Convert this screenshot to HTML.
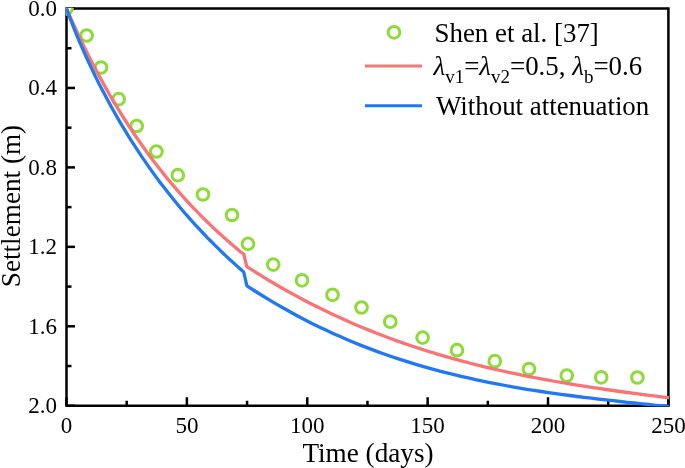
<!DOCTYPE html>
<html><head><meta charset="utf-8"><title>Settlement vs Time</title>
<style>html,body{margin:0;padding:0;background:#fff;}body{width:685px;height:468px;overflow:hidden;font-family:"Liberation Serif",serif;}svg{display:block;will-change:transform;}</style>
</head><body>
<svg width="685" height="468" viewBox="0 0 685 468">
<rect width="685" height="468" fill="#fff"/>
<defs><clipPath id="c"><rect x="65.75" y="7.75" width="603.4" height="398.75"/></clipPath></defs>
<g stroke="#000" stroke-width="2.5" fill="none" stroke-linecap="butt">
<rect x="66.5" y="8.5" width="601.9" height="397.25"/>
<line x1="66.5" y1="8.50" x2="75.0" y2="8.50"/>
<line x1="66.5" y1="48.23" x2="71.5" y2="48.23"/>
<line x1="66.5" y1="87.95" x2="75.0" y2="87.95"/>
<line x1="66.5" y1="127.68" x2="71.5" y2="127.68"/>
<line x1="66.5" y1="167.40" x2="75.0" y2="167.40"/>
<line x1="66.5" y1="207.12" x2="71.5" y2="207.12"/>
<line x1="66.5" y1="246.85" x2="75.0" y2="246.85"/>
<line x1="66.5" y1="286.58" x2="71.5" y2="286.58"/>
<line x1="66.5" y1="326.30" x2="75.0" y2="326.30"/>
<line x1="66.5" y1="366.03" x2="71.5" y2="366.03"/>
<line x1="66.5" y1="405.75" x2="75.0" y2="405.75"/>
<line x1="66.50" y1="405.75" x2="66.50" y2="397.25"/>
<line x1="126.69" y1="405.75" x2="126.69" y2="400.75"/>
<line x1="186.88" y1="405.75" x2="186.88" y2="397.25"/>
<line x1="247.07" y1="405.75" x2="247.07" y2="400.75"/>
<line x1="307.26" y1="405.75" x2="307.26" y2="397.25"/>
<line x1="367.45" y1="405.75" x2="367.45" y2="400.75"/>
<line x1="427.64" y1="405.75" x2="427.64" y2="397.25"/>
<line x1="487.83" y1="405.75" x2="487.83" y2="400.75"/>
<line x1="548.02" y1="405.75" x2="548.02" y2="397.25"/>
<line x1="608.21" y1="405.75" x2="608.21" y2="400.75"/>
<line x1="668.40" y1="405.75" x2="668.40" y2="397.25"/>
</g>
<g clip-path="url(#c)" fill="none">
<g stroke="#8CDC38" stroke-width="3.0" fill="#fff">
<circle cx="66.5" cy="8.5" r="5.85"/>
<circle cx="86.6" cy="35.5" r="5.85"/>
<circle cx="101.0" cy="67.5" r="5.85"/>
<circle cx="118.7" cy="99.1" r="5.85"/>
<circle cx="136.7" cy="126.0" r="5.85"/>
<circle cx="156.4" cy="151.5" r="5.85"/>
<circle cx="177.8" cy="175.2" r="5.85"/>
<circle cx="203.0" cy="194.5" r="5.85"/>
<circle cx="232.0" cy="215.0" r="5.85"/>
<circle cx="248.0" cy="243.9" r="5.85"/>
<circle cx="273.2" cy="264.6" r="5.85"/>
<circle cx="302.0" cy="280.3" r="5.85"/>
<circle cx="332.5" cy="294.8" r="5.85"/>
<circle cx="361.5" cy="307.5" r="5.85"/>
<circle cx="390.3" cy="321.7" r="5.85"/>
<circle cx="422.6" cy="337.6" r="5.85"/>
<circle cx="457.0" cy="350.2" r="5.85"/>
<circle cx="494.8" cy="361.2" r="5.85"/>
<circle cx="529.0" cy="369.0" r="5.85"/>
<circle cx="566.8" cy="375.6" r="5.85"/>
<circle cx="601.2" cy="377.3" r="5.85"/>
<circle cx="637.4" cy="377.5" r="5.85"/>
</g>
<path d="M66.5,8.5 L70.1,16.7 L73.7,24.8 L77.4,32.6 L81.0,40.2 L84.6,47.7 L88.2,55.0 L91.8,62.1 L95.4,69.0 L99.1,75.8 L102.7,82.4 L106.3,88.9 L109.9,95.2 L113.5,101.3 L117.2,107.4 L120.8,113.3 L124.4,119.0 L128.0,124.6 L131.6,130.2 L135.2,135.5 L138.9,140.8 L142.5,146.0 L146.1,151.0 L149.7,155.9 L153.3,160.8 L157.0,165.5 L160.6,170.1 L164.2,174.6 L167.8,179.1 L171.4,183.4 L175.1,187.7 L178.7,191.8 L182.3,195.9 L185.9,199.9 L189.5,203.8 L193.1,207.7 L196.8,211.4 L200.4,215.1 L204.0,218.8 L207.6,222.3 L211.2,225.8 L214.9,229.2 L218.5,232.6 L222.1,235.8 L225.7,239.1 L229.3,242.2 L232.9,245.3 L236.6,248.4 L240.2,251.4 L243.8,254.3 L246.8,266.6 L254.0,271.2 L261.2,275.7 L268.3,280.1 L275.5,284.3 L282.7,288.5 L289.9,292.5 L297.1,296.4 L304.2,300.3 L311.4,304.0 L318.6,307.6 L325.8,311.1 L333.0,314.5 L340.1,317.8 L347.3,321.0 L354.5,324.2 L361.7,327.2 L368.9,330.1 L376.0,333.0 L383.2,335.8 L390.4,338.5 L397.6,341.1 L404.8,343.6 L411.9,346.0 L419.1,348.4 L426.3,350.7 L433.5,352.9 L440.7,355.1 L447.8,357.2 L455.0,359.2 L462.2,361.1 L469.4,363.0 L476.5,364.9 L483.7,366.6 L490.9,368.3 L498.1,370.0 L505.3,371.6 L512.4,373.2 L519.6,374.7 L526.8,376.1 L534.0,377.5 L541.2,378.9 L548.3,380.2 L555.5,381.5 L562.7,382.7 L569.9,383.9 L577.1,385.1 L584.2,386.2 L591.4,387.3 L598.6,388.4 L605.8,389.5 L613.0,390.5 L620.1,391.5 L627.3,392.5 L634.5,393.4 L641.7,394.4 L648.9,395.3 L656.0,396.2 L663.2,397.1 L670.4,398.0" stroke="#F97474" stroke-width="3.3" stroke-linejoin="round"/>
<path d="M66.5,8.5 L70.1,18.4 L73.7,27.7 L77.3,36.6 L81.0,45.1 L84.6,53.3 L88.2,61.3 L91.8,68.9 L95.4,76.4 L99.0,83.7 L102.7,90.7 L106.3,97.6 L109.9,104.3 L113.5,110.8 L117.1,117.1 L120.7,123.3 L124.4,129.4 L128.0,135.3 L131.6,141.1 L135.2,146.7 L138.8,152.2 L142.4,157.6 L146.1,162.9 L149.7,168.1 L153.3,173.1 L156.9,178.1 L160.5,182.9 L164.1,187.6 L167.8,192.3 L171.4,196.8 L175.0,201.3 L178.6,205.7 L182.2,210.0 L185.8,214.2 L189.5,218.3 L193.1,222.3 L196.7,226.3 L200.3,230.2 L203.9,234.0 L207.5,237.8 L211.2,241.5 L214.8,245.1 L218.4,248.7 L222.0,252.2 L225.6,255.6 L229.2,259.0 L232.9,262.3 L236.5,265.6 L240.1,268.8 L243.7,272.0 L246.9,285.8 L254.1,290.5 L261.3,295.0 L268.4,299.4 L275.6,303.7 L282.8,307.8 L290.0,311.8 L297.1,315.7 L304.3,319.5 L311.5,323.2 L318.7,326.7 L325.9,330.1 L333.0,333.4 L340.2,336.6 L347.4,339.7 L354.6,342.7 L361.7,345.6 L368.9,348.4 L376.1,351.1 L383.3,353.7 L390.5,356.2 L397.6,358.6 L404.8,360.9 L412.0,363.1 L419.2,365.3 L426.3,367.4 L433.5,369.4 L440.7,371.3 L447.9,373.1 L455.1,374.9 L462.2,376.6 L469.4,378.2 L476.6,379.8 L483.8,381.3 L491.0,382.8 L498.1,384.2 L505.3,385.5 L512.5,386.8 L519.7,388.1 L526.8,389.3 L534.0,390.4 L541.2,391.5 L548.4,392.6 L555.6,393.6 L562.7,394.6 L569.9,395.5 L577.1,396.5 L584.3,397.4 L591.4,398.2 L598.6,399.1 L605.8,399.9 L613.0,400.7 L620.2,401.5 L627.3,402.3 L634.5,403.0 L641.7,403.8 L648.9,404.5 L656.0,405.3 L663.2,406.0 L670.4,406.7" stroke="#2078F5" stroke-width="3.3" stroke-linejoin="round"/>
</g>
<circle cx="394" cy="32.3" r="5.85" fill="none" stroke="#8CDC38" stroke-width="3.0"/>
<line x1="365" y1="65.9" x2="422" y2="65.9" stroke="#F97474" stroke-width="3.0"/>
<line x1="365" y1="105.7" x2="422" y2="105.7" stroke="#2078F5" stroke-width="3.0"/>
<g font-family="&apos;Liberation Serif&apos;, serif" font-size="26.9" fill="#000">
<text x="434.5" y="42.3">Shen et al. [37]</text>
<text x="433.5" y="75.2"><tspan font-style="italic">λ</tspan><tspan font-size="19" dy="8">v1</tspan><tspan dy="-8">=</tspan><tspan font-style="italic">λ</tspan><tspan font-size="19" dy="8">v2</tspan><tspan dy="-8">=0.5, </tspan><tspan font-style="italic">λ</tspan><tspan font-size="19" dy="8">b</tspan><tspan dy="-8">=0.6</tspan></text>
<text x="436" y="114.5">Without attenuation</text>
<text x="368" y="461.7" text-anchor="middle" font-size="27.2">Time (days)</text>
<text transform="translate(20,206) rotate(-90)" text-anchor="middle" font-size="27.2">Settlement (m)</text>
</g>
<g font-family="&apos;Liberation Serif&apos;, serif" font-size="23" fill="#000">
<text x="57.1" y="15.9" text-anchor="end">0.0</text>
<text x="57.1" y="95.4" text-anchor="end">0.4</text>
<text x="57.1" y="174.8" text-anchor="end">0.8</text>
<text x="57.1" y="254.3" text-anchor="end">1.2</text>
<text x="57.1" y="333.7" text-anchor="end">1.6</text>
<text x="57.1" y="413.1" text-anchor="end">2.0</text>
<text x="66.5" y="433.3" text-anchor="middle">0</text>
<text x="186.9" y="433.3" text-anchor="middle">50</text>
<text x="307.3" y="433.3" text-anchor="middle">100</text>
<text x="427.6" y="433.3" text-anchor="middle">150</text>
<text x="548.0" y="433.3" text-anchor="middle">200</text>
<text x="668.4" y="433.3" text-anchor="middle">250</text>
</g>
</svg>
</body></html>
